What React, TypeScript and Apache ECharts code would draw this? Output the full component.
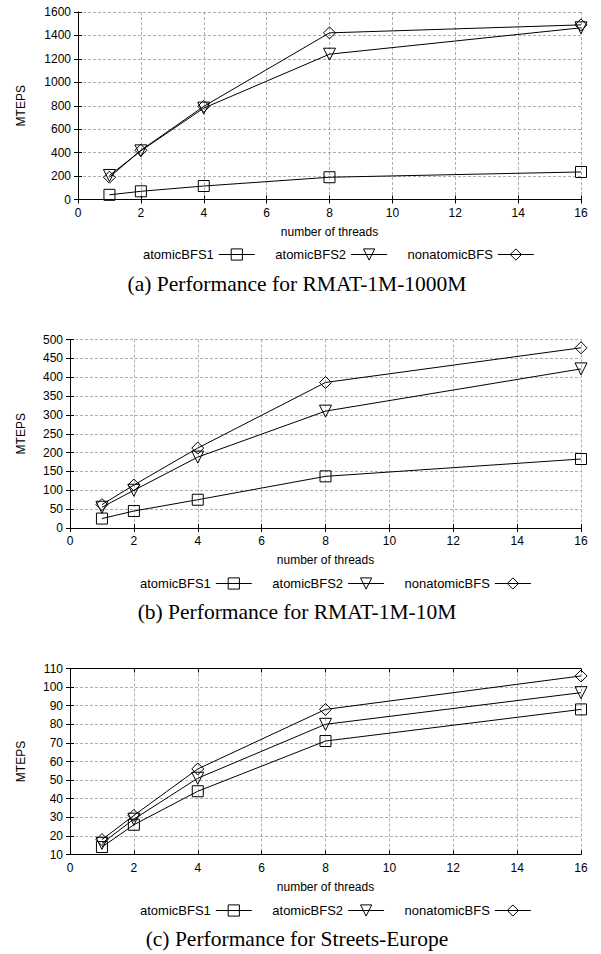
import React, { useEffect, useRef } from "react";
import * as echarts from "echarts";

const threads = [1, 2, 4, 8, 16];
const seriesNames = ["atomicBFS1", "atomicBFS2", "nonatomicBFS"];

// (a) RMAT-1M-1000M
const rmat1000Atomic1 = [40, 70, 115, 190, 235];
const rmat1000Atomic2 = [205, 415, 780, 1240, 1465];
const rmat1000NonAtomic = [190, 420, 795, 1422, 1490];
// (b) RMAT-1M-10M
const rmat10Atomic1 = [25, 45, 75, 137, 183];
const rmat10Atomic2 = [55, 100, 188, 310, 422];
const rmat10NonAtomic = [62, 114, 212, 386, 478];
// (c) Streets-Europe
const streetsAtomic1 = [14, 26, 44, 71, 88];
const streetsAtomic2 = [16, 29, 51, 80, 97];
const streetsNonAtomic = [18, 31, 56, 88, 106];

const xTicks = { min: 0, max: 16, interval: 2 };
const yRanges = [
  { min: 0, max: 1600, interval: 200 },
  { min: 0, max: 500, interval: 50 },
  { min: 10, max: 110, interval: 10 },
];
const captions = [
  "(a) Performance for RMAT-1M-1000M",
  "(b) Performance for RMAT-1M-10M",
  "(c) Performance for Streets-Europe",
];
const panelData = [
  [rmat1000Atomic1, rmat1000Atomic2, rmat1000NonAtomic],
  [rmat10Atomic1, rmat10Atomic2, rmat10NonAtomic],
  [streetsAtomic1, streetsAtomic2, streetsNonAtomic],
];

const SANS = "Liberation Sans";
const SERIF = "Liberation Serif";

const grids = [
  { left: 78, top: 12, width: 503, height: 187.5 },
  { left: 70, top: 339.5, width: 511, height: 188.5 },
  { left: 70, top: 668.5, width: 511, height: 186 },
];
const nameGaps = [51, 43, 43];
const legendTops = [243, 572, 899];
const legendLefts = [138, 135, 135];
const captionYs = [284, 612, 939];

const symbols = [
  { symbol: "rect", symbolSize: 11, symbolRotate: 0 },
  { symbol: "triangle", symbolSize: 12, symbolRotate: 180 },
  { symbol: "diamond", symbolSize: 12, symbolRotate: 0 },
];

export default function App() {
  const ref = useRef<HTMLDivElement>(null);
  useEffect(() => {
    if (!ref.current) return;
    const chart = echarts.init(ref.current, null, { renderer: "svg" });
    const xAxis: any[] = [];
    const yAxis: any[] = [];
    const series: any[] = [];
    const legend: any[] = [];
    const graphic: any[] = [];
    const splitLine = {
      show: true,
      lineStyle: { color: "#999", type: [3, 2], width: 0.8 },
    };
    const axisLine = { show: true, lineStyle: { color: "#000", width: 1 } };
    const axisLabel = {
      show: true,
      margin: 7,
      color: "#000",
      fontSize: 12,
      fontFamily: SANS,
      formatter: (v: number) => String(v),
    };
    const tick = { show: true, inside: true, length: 4, lineStyle: { color: "#000" } };
    grids.forEach((g, k) => {
      xAxis.push({
        type: "value",
        gridIndex: k,
        position: "bottom",
        ...xTicks,
        name: "number of threads",
        nameLocation: "middle",
        nameGap: 26,
        nameTextStyle: { color: "#000", fontSize: 12, fontFamily: SANS },
        axisLine,
        axisTick: tick,
        axisLabel,
        splitLine,
      });
      xAxis.push({
        type: "value",
        gridIndex: k,
        position: "top",
        ...xTicks,
        axisLine,
        axisTick: tick,
        axisLabel: { show: false },
        splitLine: { show: false },
      });
      yAxis.push({
        type: "value",
        gridIndex: k,
        position: "left",
        ...yRanges[k],
        name: "MTEPS",
        nameLocation: "middle",
        nameGap: nameGaps[k],
        nameTextStyle: { color: "#000", fontSize: 12, fontFamily: SANS },
        axisLine,
        axisTick: tick,
        axisLabel,
        splitLine,
      });
      yAxis.push({
        type: "value",
        gridIndex: k,
        position: "right",
        ...yRanges[k],
        axisLine,
        axisTick: tick,
        axisLabel: { show: false },
        splitLine: { show: false },
      });
      panelData[k].forEach((vals, s) => {
        series.push({
          type: "line",
          name: seriesNames[s],
          xAxisIndex: k * 2,
          yAxisIndex: k * 2,
          data: threads.map((t, i) => [t, vals[i]]),
          symbol: symbols[s].symbol,
          symbolSize: symbols[s].symbolSize,
          symbolRotate: symbols[s].symbolRotate,
          showSymbol: true,
          showAllSymbol: true,
          lineStyle: { color: "#000", width: 1 },
          itemStyle: { color: "rgba(0,0,0,0)", borderColor: "#000", borderWidth: 1 },
          emphasis: { disabled: true },
          z: 3,
        });
      });
      legend.push({
        left: legendLefts[k],
        top: legendTops[k],
        orient: "horizontal",
        align: "right",
        itemWidth: 36,
        itemHeight: 14,
        itemGap: 20,
        selectedMode: false,
        lineStyle: { width: 1, color: "#000" },
        itemStyle: { borderWidth: 1, borderColor: "#000", color: "rgba(0,0,0,0)" },
        textStyle: { color: "#000", fontSize: 13, fontFamily: SANS },
        data: seriesNames,
      });
      graphic.push({
        type: "text",
        x: 297,
        y: captionYs[k],
        style: {
          text: captions[k],
          fill: "#000",
          font: `21.5px "${SERIF}"`,
          align: "center",
          verticalAlign: "middle",
        },
      });
    });
    chart.setOption({
      animation: false,
      backgroundColor: "#fff",
      grid: grids.map((g) => ({ ...g, containLabel: false })),
      xAxis,
      yAxis,
      series,
      legend,
      graphic,
    });
    return () => chart.dispose();
  }, []);
  return (
    <div
      ref={ref}
      style={{ position: "absolute", left: 0, top: 0, width: 601, height: 954 }}
    />
  );
}
